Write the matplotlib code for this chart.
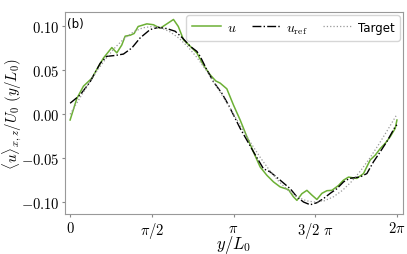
import matplotlib
matplotlib.use('Agg')
import matplotlib.pyplot as plt
import numpy as np
from matplotlib.ticker import FormatStrFormatter

plt.rcParams['mathtext.fontset'] = 'cm'
plt.rcParams['font.family'] = ['DejaVu Sans']

# green: simulated mean profile u
u_y = [0.000, 0.129, 0.256, 0.417, 0.513, 0.640, 0.802, 0.898, 0.994, 1.058,
       1.154, 1.230, 1.308, 1.475, 1.602, 1.731, 1.860, 1.987, 2.080, 2.179,
       2.308, 2.436, 2.563, 2.692, 2.800, 2.885, 3.013, 3.140, 3.269, 3.398,
       3.525, 3.654, 3.783, 3.910, 4.038, 4.198, 4.294, 4.360, 4.456, 4.552,
       4.648, 4.744, 4.840, 4.937, 5.033, 5.160, 5.256, 5.352, 5.513, 5.640,
       5.769, 5.865, 5.962, 6.058, 6.154, 6.250, 6.283]
u_val = [-0.0065, 0.018, 0.032, 0.041, 0.051, 0.064, 0.076, 0.070, 0.079, 0.089,
         0.090, 0.092, 0.100, 0.103, 0.102, 0.098, 0.103, 0.108, 0.100, 0.085,
         0.0775, 0.070, 0.056, 0.045, 0.038, 0.0355, 0.029, 0.0106, -0.0065, -0.0255,
         -0.043, -0.060, -0.0695, -0.077, -0.0827, -0.0858, -0.094, -0.098, -0.0904, -0.0866,
         -0.092, -0.097, -0.090, -0.087, -0.0866, -0.081, -0.075, -0.0715, -0.073, -0.0675,
         -0.052, -0.0466, -0.039, -0.033, -0.0255, -0.016, -0.0065]

# black dash-dot: reference profile
ref_y = [0.000, 0.192, 0.385, 0.577, 0.705, 0.865, 1.025, 1.186, 1.346, 1.538,
         1.698, 1.859, 2.019, 2.160, 2.308, 2.436, 2.500, 2.629, 2.756, 2.917,
         3.045, 3.269, 3.525, 3.717, 3.846, 4.038, 4.231, 4.360, 4.487, 4.615,
         4.744, 4.871, 5.000, 5.129, 5.256, 5.371, 5.577, 5.705, 5.833, 5.962,
         6.090, 6.250, 6.283]
ref_val = [0.0126, 0.022, 0.037, 0.058, 0.066, 0.067, 0.0686, 0.0755, 0.087, 0.0965,
           0.099, 0.0976, 0.0946, 0.087, 0.0775, 0.0717, 0.066, 0.0507, 0.037, 0.024,
           0.0106, -0.016, -0.0427, -0.062, -0.0656, -0.075, -0.0847, -0.094, -0.0999, -0.103,
           -0.1007, -0.096, -0.090, -0.0847, -0.077, -0.073, -0.0713, -0.0675, -0.054, -0.0427,
           -0.031, -0.014, -0.012]

# grey dotted: target profile, every 10 degrees
tgt_y = [0.0000, 0.1745, 0.3491, 0.5236, 0.6981, 0.8727, 1.0472, 1.2217, 1.3963, 1.5708,
         1.7453, 1.9199, 2.0944, 2.2689, 2.4435, 2.6180, 2.7925, 2.9671, 3.1416, 3.3161,
         3.4907, 3.6652, 3.8397, 4.0143, 4.1888, 4.3633, 4.5379, 4.7124, 4.8869, 5.0615,
         5.2360, 5.4105, 5.5851, 5.7596, 5.9341, 6.1087, 6.2832]
tgt_val = [0.0, 0.01736, 0.03420, 0.05, 0.06428, 0.07660, 0.08660, 0.09397, 0.09848, 0.1,
           0.09848, 0.09397, 0.08660, 0.07660, 0.06428, 0.05, 0.03420, 0.01736, 0.0, -0.01736,
           -0.03420, -0.05, -0.06428, -0.07660, -0.08660, -0.09397, -0.09848, -0.1, -0.09848,
           -0.09397, -0.08660, -0.07660, -0.06428, -0.05, -0.03420, -0.01736, 0.0]

xticks = [0, np.pi / 2, np.pi, 1.5 * np.pi, 2 * np.pi]
xticklabels = [r'$0$', r'$\pi/2$', r'$\pi$', r'$3/2\ \pi$', r'$2\pi$']

fig = plt.figure(figsize=(4.07, 2.55), dpi=100)
ax = fig.add_axes([0.160, 0.157, 0.830, 0.792])

ax.plot(u_y, u_val, color='#6cb035', lw=1.1, label=r'$u$')
ax.plot(ref_y, ref_val, color='black', lw=1.0, ls='-.', label=r'$u_{\rm ref}$')
ax.plot(tgt_y, tgt_val, color='#999999', lw=0.9, ls=':', label='Target')

ax.set_xlim(-0.096, 2 * np.pi + 0.115)
ax.set_ylim(-0.1135, 0.1165)
ax.set_xticks(xticks)
ax.set_xticklabels(xticklabels)
ax.set_yticks([-0.10, -0.05, 0.00, 0.05, 0.10])
ax.yaxis.set_major_formatter(FormatStrFormatter('$%.2f$'))
ax.tick_params(labelsize=10.5, color='#888888', length=2.5, pad=1.5)

for s in ax.spines.values():
    s.set_color('#999999')

ax.set_xlabel(r'$y/L_0$', fontsize=12)
ax.xaxis.set_label_coords(0.5, -0.095)
ax.set_ylabel(r'$\langle u\rangle_{x,z}/U_0\ (y/L_0)$', fontsize=10.8)
ax.yaxis.set_label_coords(-0.121, 0.5)

ax.text(0.005, 0.975, '(b)', transform=ax.transAxes, fontsize=8.5, va='top', ha='left')

leg = ax.legend(loc='upper right', ncol=3, fontsize=10, handlelength=2.1,
                columnspacing=1.1, handletextpad=0.4, borderaxespad=0.2)
leg.get_texts()[2].set_fontsize(8.5)

fig.savefig('out.png', dpi=100)
